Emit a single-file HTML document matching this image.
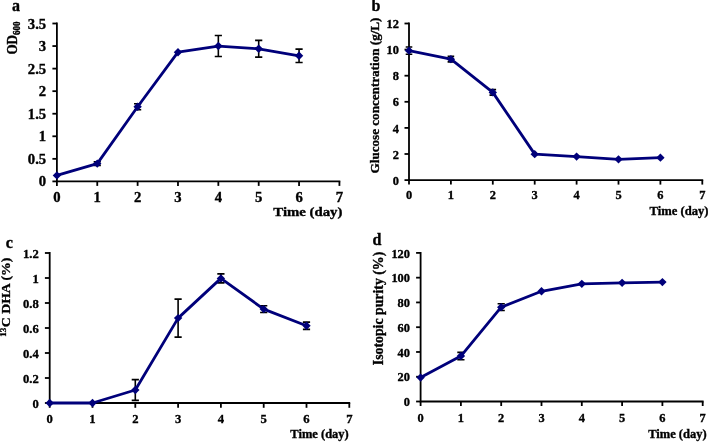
<!DOCTYPE html>
<html><head><meta charset="utf-8"><style>
html,body{margin:0;padding:0;background:#fff;}
svg{display:block;}
text{font-family:"Liberation Serif", serif;font-weight:bold;fill:#000;stroke:#000;stroke-width:0.35px;}
svg{will-change:transform;}
</style></head><body>
<svg width="708" height="442" viewBox="0 0 708 442">
<rect width="708" height="442" fill="#fff"/>
<path d="M56.9,23.5V181.4H339.42" fill="none" stroke="#000" stroke-width="1.8" stroke-linecap="square"/>
<line x1="52.4" y1="181.40" x2="56.9" y2="181.40" stroke="#000" stroke-width="1.8"/>
<line x1="52.4" y1="158.84" x2="56.9" y2="158.84" stroke="#000" stroke-width="1.8"/>
<line x1="52.4" y1="136.29" x2="56.9" y2="136.29" stroke="#000" stroke-width="1.8"/>
<line x1="52.4" y1="113.73" x2="56.9" y2="113.73" stroke="#000" stroke-width="1.8"/>
<line x1="52.4" y1="91.17" x2="56.9" y2="91.17" stroke="#000" stroke-width="1.8"/>
<line x1="52.4" y1="68.61" x2="56.9" y2="68.61" stroke="#000" stroke-width="1.8"/>
<line x1="52.4" y1="46.06" x2="56.9" y2="46.06" stroke="#000" stroke-width="1.8"/>
<line x1="52.4" y1="23.50" x2="56.9" y2="23.50" stroke="#000" stroke-width="1.8"/>
<line x1="56.90" y1="181.4" x2="56.90" y2="185.9" stroke="#000" stroke-width="1.8"/>
<line x1="97.26" y1="181.4" x2="97.26" y2="185.9" stroke="#000" stroke-width="1.8"/>
<line x1="137.62" y1="181.4" x2="137.62" y2="185.9" stroke="#000" stroke-width="1.8"/>
<line x1="177.98" y1="181.4" x2="177.98" y2="185.9" stroke="#000" stroke-width="1.8"/>
<line x1="218.34" y1="181.4" x2="218.34" y2="185.9" stroke="#000" stroke-width="1.8"/>
<line x1="258.70" y1="181.4" x2="258.70" y2="185.9" stroke="#000" stroke-width="1.8"/>
<line x1="299.06" y1="181.4" x2="299.06" y2="185.9" stroke="#000" stroke-width="1.8"/>
<line x1="339.42" y1="181.4" x2="339.42" y2="185.9" stroke="#000" stroke-width="1.8"/>
<text transform="translate(46.2,186.43) scale(1.05,1)" text-anchor="end" font-size="14">0</text>
<text transform="translate(46.2,163.87) scale(1.05,1)" text-anchor="end" font-size="14">0.5</text>
<text transform="translate(46.2,141.32) scale(1.05,1)" text-anchor="end" font-size="14">1</text>
<text transform="translate(46.2,118.76) scale(1.05,1)" text-anchor="end" font-size="14">1.5</text>
<text transform="translate(46.2,96.20) scale(1.05,1)" text-anchor="end" font-size="14">2</text>
<text transform="translate(46.2,73.65) scale(1.05,1)" text-anchor="end" font-size="14">2.5</text>
<text transform="translate(46.2,51.09) scale(1.05,1)" text-anchor="end" font-size="14">3</text>
<text transform="translate(46.2,28.53) scale(1.05,1)" text-anchor="end" font-size="14">3.5</text>
<text transform="translate(56.90,202.1) scale(1.05,1)" text-anchor="middle" font-size="14">0</text>
<text transform="translate(97.26,202.1) scale(1.05,1)" text-anchor="middle" font-size="14">1</text>
<text transform="translate(137.62,202.1) scale(1.05,1)" text-anchor="middle" font-size="14">2</text>
<text transform="translate(177.98,202.1) scale(1.05,1)" text-anchor="middle" font-size="14">3</text>
<text transform="translate(218.34,202.1) scale(1.05,1)" text-anchor="middle" font-size="14">4</text>
<text transform="translate(258.70,202.1) scale(1.05,1)" text-anchor="middle" font-size="14">5</text>
<text transform="translate(299.06,202.1) scale(1.05,1)" text-anchor="middle" font-size="14">6</text>
<text transform="translate(339.42,202.1) scale(1.05,1)" text-anchor="middle" font-size="14">7</text>
<text transform="translate(273.3,215.7) scale(1.12,1)" font-size="13.2">Time (day)</text>
<text transform="translate(12.0,11.0) scale(1.0,1)" font-size="16">a</text>
<text transform="translate(17.2,54.5) rotate(-90) scale(1,1.15)" font-size="13">OD<tspan font-size="9" dy="2.6">600</tspan></text>
<path d="M97.26,161.78V165.38M93.66,161.78H100.86M93.66,165.38H100.86" stroke="#000" stroke-width="1.6" fill="none"/>
<path d="M137.62,103.80V109.76M134.02,103.80H141.22M134.02,109.76H141.22" stroke="#000" stroke-width="1.6" fill="none"/>
<path d="M218.34,35.55V56.57M214.74,35.55H221.94M214.74,56.57H221.94" stroke="#000" stroke-width="1.6" fill="none"/>
<path d="M258.70,40.42V57.11M255.10,40.42H262.30M255.10,57.11H262.30" stroke="#000" stroke-width="1.6" fill="none"/>
<path d="M299.06,49.08V62.52M295.46,49.08H302.66M295.46,62.52H302.66" stroke="#000" stroke-width="1.6" fill="none"/>
<polyline points="56.90,175.40 97.26,163.58 137.62,106.78 177.98,52.19 218.34,46.06 258.70,48.76 299.06,55.80" fill="none" stroke="#00007a" stroke-width="2.8" stroke-linejoin="round"/>
<path d="M56.90,171.20L61.10,175.40L56.90,179.60L52.70,175.40Z" fill="#00007a"/>
<path d="M97.26,159.38L101.46,163.58L97.26,167.78L93.06,163.58Z" fill="#00007a"/>
<path d="M137.62,102.58L141.82,106.78L137.62,110.98L133.42,106.78Z" fill="#00007a"/>
<path d="M177.98,47.99L182.18,52.19L177.98,56.39L173.78,52.19Z" fill="#00007a"/>
<path d="M218.34,41.86L222.54,46.06L218.34,50.26L214.14,46.06Z" fill="#00007a"/>
<path d="M258.70,44.56L262.90,48.76L258.70,52.96L254.50,48.76Z" fill="#00007a"/>
<path d="M299.06,51.60L303.26,55.80L299.06,60.00L294.86,55.80Z" fill="#00007a"/>
<path d="M409,23.5V180.1H702.30" fill="none" stroke="#000" stroke-width="1.8" stroke-linecap="square"/>
<line x1="404.5" y1="180.10" x2="409" y2="180.10" stroke="#000" stroke-width="1.8"/>
<line x1="404.5" y1="154.00" x2="409" y2="154.00" stroke="#000" stroke-width="1.8"/>
<line x1="404.5" y1="127.90" x2="409" y2="127.90" stroke="#000" stroke-width="1.8"/>
<line x1="404.5" y1="101.80" x2="409" y2="101.80" stroke="#000" stroke-width="1.8"/>
<line x1="404.5" y1="75.70" x2="409" y2="75.70" stroke="#000" stroke-width="1.8"/>
<line x1="404.5" y1="49.60" x2="409" y2="49.60" stroke="#000" stroke-width="1.8"/>
<line x1="404.5" y1="23.50" x2="409" y2="23.50" stroke="#000" stroke-width="1.8"/>
<line x1="409.00" y1="180.1" x2="409.00" y2="184.6" stroke="#000" stroke-width="1.8"/>
<line x1="450.90" y1="180.1" x2="450.90" y2="184.6" stroke="#000" stroke-width="1.8"/>
<line x1="492.80" y1="180.1" x2="492.80" y2="184.6" stroke="#000" stroke-width="1.8"/>
<line x1="534.70" y1="180.1" x2="534.70" y2="184.6" stroke="#000" stroke-width="1.8"/>
<line x1="576.60" y1="180.1" x2="576.60" y2="184.6" stroke="#000" stroke-width="1.8"/>
<line x1="618.50" y1="180.1" x2="618.50" y2="184.6" stroke="#000" stroke-width="1.8"/>
<line x1="660.40" y1="180.1" x2="660.40" y2="184.6" stroke="#000" stroke-width="1.8"/>
<line x1="702.30" y1="180.1" x2="702.30" y2="184.6" stroke="#000" stroke-width="1.8"/>
<text transform="translate(399.0,184.73) scale(0.97,1)" text-anchor="end" font-size="12.8">0</text>
<text transform="translate(399.0,158.63) scale(0.97,1)" text-anchor="end" font-size="12.8">2</text>
<text transform="translate(399.0,132.53) scale(0.97,1)" text-anchor="end" font-size="12.8">4</text>
<text transform="translate(399.0,106.43) scale(0.97,1)" text-anchor="end" font-size="12.8">6</text>
<text transform="translate(399.0,80.33) scale(0.97,1)" text-anchor="end" font-size="12.8">8</text>
<text transform="translate(399.0,54.23) scale(0.97,1)" text-anchor="end" font-size="12.8">10</text>
<text transform="translate(399.0,28.13) scale(0.97,1)" text-anchor="end" font-size="12.8">12</text>
<text transform="translate(409.00,199.2) scale(0.97,1)" text-anchor="middle" font-size="12.8">0</text>
<text transform="translate(450.90,199.2) scale(0.97,1)" text-anchor="middle" font-size="12.8">1</text>
<text transform="translate(492.80,199.2) scale(0.97,1)" text-anchor="middle" font-size="12.8">2</text>
<text transform="translate(534.70,199.2) scale(0.97,1)" text-anchor="middle" font-size="12.8">3</text>
<text transform="translate(576.60,199.2) scale(0.97,1)" text-anchor="middle" font-size="12.8">4</text>
<text transform="translate(618.50,199.2) scale(0.97,1)" text-anchor="middle" font-size="12.8">5</text>
<text transform="translate(660.40,199.2) scale(0.97,1)" text-anchor="middle" font-size="12.8">6</text>
<text transform="translate(702.30,199.2) scale(0.97,1)" text-anchor="middle" font-size="12.8">7</text>
<text transform="translate(649.6,215.2) scale(1.0,1)" font-size="12.6">Time (day)</text>
<text transform="translate(371.4,11.3) scale(1.0,1)" font-size="16">b</text>
<text transform="translate(379.3,173.4) rotate(-90) scale(1,1.0)" font-size="13.12">Glucose concentration (g/L)</text>
<path d="M409.00,46.99V54.30M405.70,46.99H412.30M405.70,54.30H412.30" stroke="#000" stroke-width="1.6" fill="none"/>
<path d="M450.90,56.39V61.87M447.60,56.39H454.20M447.60,61.87H454.20" stroke="#000" stroke-width="1.6" fill="none"/>
<path d="M492.80,89.66V95.14M489.50,89.66H496.10M489.50,95.14H496.10" stroke="#000" stroke-width="1.6" fill="none"/>
<polyline points="409.00,50.64 450.90,59.13 492.80,92.40 534.70,154.13 576.60,156.61 618.50,159.35 660.40,157.65" fill="none" stroke="#00007a" stroke-width="2.8" stroke-linejoin="round"/>
<path d="M409.00,46.44L413.20,50.64L409.00,54.84L404.80,50.64Z" fill="#00007a"/>
<path d="M450.90,54.93L455.10,59.13L450.90,63.33L446.70,59.13Z" fill="#00007a"/>
<path d="M492.80,88.20L497.00,92.40L492.80,96.60L488.60,92.40Z" fill="#00007a"/>
<path d="M534.70,149.93L538.90,154.13L534.70,158.33L530.50,154.13Z" fill="#00007a"/>
<path d="M576.60,152.41L580.80,156.61L576.60,160.81L572.40,156.61Z" fill="#00007a"/>
<path d="M618.50,155.15L622.70,159.35L618.50,163.55L614.30,159.35Z" fill="#00007a"/>
<path d="M660.40,153.45L664.60,157.65L660.40,161.85L656.20,157.65Z" fill="#00007a"/>
<path d="M49.7,253V403.0H349.30" fill="none" stroke="#000" stroke-width="1.8" stroke-linecap="square"/>
<line x1="44.900000000000006" y1="403.00" x2="49.7" y2="403.00" stroke="#000" stroke-width="1.8"/>
<line x1="44.900000000000006" y1="378.00" x2="49.7" y2="378.00" stroke="#000" stroke-width="1.8"/>
<line x1="44.900000000000006" y1="353.00" x2="49.7" y2="353.00" stroke="#000" stroke-width="1.8"/>
<line x1="44.900000000000006" y1="328.00" x2="49.7" y2="328.00" stroke="#000" stroke-width="1.8"/>
<line x1="44.900000000000006" y1="303.00" x2="49.7" y2="303.00" stroke="#000" stroke-width="1.8"/>
<line x1="44.900000000000006" y1="278.00" x2="49.7" y2="278.00" stroke="#000" stroke-width="1.8"/>
<line x1="44.900000000000006" y1="253.00" x2="49.7" y2="253.00" stroke="#000" stroke-width="1.8"/>
<line x1="49.70" y1="403.0" x2="49.70" y2="407.8" stroke="#000" stroke-width="1.8"/>
<line x1="92.50" y1="403.0" x2="92.50" y2="407.8" stroke="#000" stroke-width="1.8"/>
<line x1="135.30" y1="403.0" x2="135.30" y2="407.8" stroke="#000" stroke-width="1.8"/>
<line x1="178.10" y1="403.0" x2="178.10" y2="407.8" stroke="#000" stroke-width="1.8"/>
<line x1="220.90" y1="403.0" x2="220.90" y2="407.8" stroke="#000" stroke-width="1.8"/>
<line x1="263.70" y1="403.0" x2="263.70" y2="407.8" stroke="#000" stroke-width="1.8"/>
<line x1="306.50" y1="403.0" x2="306.50" y2="407.8" stroke="#000" stroke-width="1.8"/>
<line x1="349.30" y1="403.0" x2="349.30" y2="407.8" stroke="#000" stroke-width="1.8"/>
<text transform="translate(38.7,407.80) scale(0.95,1)" text-anchor="end" font-size="13.3">0</text>
<text transform="translate(38.7,382.80) scale(0.95,1)" text-anchor="end" font-size="13.3">0.2</text>
<text transform="translate(38.7,357.80) scale(0.95,1)" text-anchor="end" font-size="13.3">0.4</text>
<text transform="translate(38.7,332.80) scale(0.95,1)" text-anchor="end" font-size="13.3">0.6</text>
<text transform="translate(38.7,307.80) scale(0.95,1)" text-anchor="end" font-size="13.3">0.8</text>
<text transform="translate(38.7,282.80) scale(0.95,1)" text-anchor="end" font-size="13.3">1</text>
<text transform="translate(38.7,257.80) scale(0.95,1)" text-anchor="end" font-size="13.3">1.2</text>
<text transform="translate(49.70,423.1) scale(0.95,1)" text-anchor="middle" font-size="13.3">0</text>
<text transform="translate(92.50,423.1) scale(0.95,1)" text-anchor="middle" font-size="13.3">1</text>
<text transform="translate(135.30,423.1) scale(0.95,1)" text-anchor="middle" font-size="13.3">2</text>
<text transform="translate(178.10,423.1) scale(0.95,1)" text-anchor="middle" font-size="13.3">3</text>
<text transform="translate(220.90,423.1) scale(0.95,1)" text-anchor="middle" font-size="13.3">4</text>
<text transform="translate(263.70,423.1) scale(0.95,1)" text-anchor="middle" font-size="13.3">5</text>
<text transform="translate(306.50,423.1) scale(0.95,1)" text-anchor="middle" font-size="13.3">6</text>
<text transform="translate(349.30,423.1) scale(0.95,1)" text-anchor="middle" font-size="13.3">7</text>
<text transform="translate(290.3,438.2) scale(1.0,1)" font-size="12.5">Time (day)</text>
<text transform="translate(5.8,248) scale(1.0,1)" font-size="16">c</text>
<text transform="translate(10.2,336.8) rotate(-90) scale(1,0.87)" font-size="13.8"><tspan font-size="9" dy="-4.5">13</tspan><tspan dy="4.5" dx="0.6">C DHA (%)</tspan></text>
<path d="M135.30,379.62V400.38M131.70,379.62H138.90M131.70,400.38H138.90" stroke="#000" stroke-width="1.6" fill="none"/>
<path d="M178.10,299.12V337.12M174.50,299.12H181.70M174.50,337.12H181.70" stroke="#000" stroke-width="1.6" fill="none"/>
<path d="M220.90,273.88V282.88M217.30,273.88H224.50M217.30,282.88H224.50" stroke="#000" stroke-width="1.6" fill="none"/>
<path d="M263.70,305.75V312.50M260.10,305.75H267.30M260.10,312.50H267.30" stroke="#000" stroke-width="1.6" fill="none"/>
<path d="M306.50,322.12V329.38M302.90,322.12H310.10M302.90,329.38H310.10" stroke="#000" stroke-width="1.6" fill="none"/>
<polyline points="49.70,403.00 92.50,403.00 135.30,390.00 178.10,318.12 220.90,278.38 263.70,309.12 306.50,325.75" fill="none" stroke="#00007a" stroke-width="2.8" stroke-linejoin="round"/>
<path d="M49.70,398.80L53.90,403.00L49.70,407.20L45.50,403.00Z" fill="#00007a"/>
<path d="M92.50,398.80L96.70,403.00L92.50,407.20L88.30,403.00Z" fill="#00007a"/>
<path d="M135.30,385.80L139.50,390.00L135.30,394.20L131.10,390.00Z" fill="#00007a"/>
<path d="M178.10,313.93L182.30,318.12L178.10,322.32L173.90,318.12Z" fill="#00007a"/>
<path d="M220.90,274.18L225.10,278.38L220.90,282.57L216.70,278.38Z" fill="#00007a"/>
<path d="M263.70,304.93L267.90,309.12L263.70,313.32L259.50,309.12Z" fill="#00007a"/>
<path d="M306.50,321.55L310.70,325.75L306.50,329.95L302.30,325.75Z" fill="#00007a"/>
<path d="M420.6,252.9V401.5H702.70" fill="none" stroke="#000" stroke-width="1.8" stroke-linecap="square"/>
<line x1="416.1" y1="401.50" x2="420.6" y2="401.50" stroke="#000" stroke-width="1.8"/>
<line x1="416.1" y1="376.73" x2="420.6" y2="376.73" stroke="#000" stroke-width="1.8"/>
<line x1="416.1" y1="351.97" x2="420.6" y2="351.97" stroke="#000" stroke-width="1.8"/>
<line x1="416.1" y1="327.20" x2="420.6" y2="327.20" stroke="#000" stroke-width="1.8"/>
<line x1="416.1" y1="302.43" x2="420.6" y2="302.43" stroke="#000" stroke-width="1.8"/>
<line x1="416.1" y1="277.67" x2="420.6" y2="277.67" stroke="#000" stroke-width="1.8"/>
<line x1="416.1" y1="252.90" x2="420.6" y2="252.90" stroke="#000" stroke-width="1.8"/>
<line x1="420.60" y1="401.5" x2="420.60" y2="406.0" stroke="#000" stroke-width="1.8"/>
<line x1="460.90" y1="401.5" x2="460.90" y2="406.0" stroke="#000" stroke-width="1.8"/>
<line x1="501.20" y1="401.5" x2="501.20" y2="406.0" stroke="#000" stroke-width="1.8"/>
<line x1="541.50" y1="401.5" x2="541.50" y2="406.0" stroke="#000" stroke-width="1.8"/>
<line x1="581.80" y1="401.5" x2="581.80" y2="406.0" stroke="#000" stroke-width="1.8"/>
<line x1="622.10" y1="401.5" x2="622.10" y2="406.0" stroke="#000" stroke-width="1.8"/>
<line x1="662.40" y1="401.5" x2="662.40" y2="406.0" stroke="#000" stroke-width="1.8"/>
<line x1="702.70" y1="401.5" x2="702.70" y2="406.0" stroke="#000" stroke-width="1.8"/>
<text transform="translate(410.0,406.13) scale(0.97,1)" text-anchor="end" font-size="12.8">0</text>
<text transform="translate(410.0,381.36) scale(0.97,1)" text-anchor="end" font-size="12.8">20</text>
<text transform="translate(410.0,356.59) scale(0.97,1)" text-anchor="end" font-size="12.8">40</text>
<text transform="translate(410.0,331.83) scale(0.97,1)" text-anchor="end" font-size="12.8">60</text>
<text transform="translate(410.0,307.06) scale(0.97,1)" text-anchor="end" font-size="12.8">80</text>
<text transform="translate(410.0,282.29) scale(0.97,1)" text-anchor="end" font-size="12.8">100</text>
<text transform="translate(410.0,257.53) scale(0.97,1)" text-anchor="end" font-size="12.8">120</text>
<text transform="translate(420.60,421.8) scale(0.97,1)" text-anchor="middle" font-size="12.8">0</text>
<text transform="translate(460.90,421.8) scale(0.97,1)" text-anchor="middle" font-size="12.8">1</text>
<text transform="translate(501.20,421.8) scale(0.97,1)" text-anchor="middle" font-size="12.8">2</text>
<text transform="translate(541.50,421.8) scale(0.97,1)" text-anchor="middle" font-size="12.8">3</text>
<text transform="translate(581.80,421.8) scale(0.97,1)" text-anchor="middle" font-size="12.8">4</text>
<text transform="translate(622.10,421.8) scale(0.97,1)" text-anchor="middle" font-size="12.8">5</text>
<text transform="translate(662.40,421.8) scale(0.97,1)" text-anchor="middle" font-size="12.8">6</text>
<text transform="translate(702.70,421.8) scale(0.97,1)" text-anchor="middle" font-size="12.8">7</text>
<text transform="translate(648.2,438) scale(1.0,1)" font-size="12.5">Time (day)</text>
<text transform="translate(372.5,244.6) scale(1.0,1)" font-size="16">d</text>
<text transform="translate(383.2,365.2) rotate(-90) scale(1,1.0)" font-size="13.8">Isotopic purity (%)</text>
<path d="M460.90,352.34V359.77M457.30,352.34H464.50M457.30,359.77H464.50" stroke="#000" stroke-width="1.6" fill="none"/>
<path d="M501.20,303.80V310.48M497.60,303.80H504.80M497.60,310.48H504.80" stroke="#000" stroke-width="1.6" fill="none"/>
<polyline points="420.60,377.60 460.90,356.05 501.20,307.14 541.50,291.29 581.80,283.86 622.10,282.87 662.40,282.12" fill="none" stroke="#00007a" stroke-width="2.8" stroke-linejoin="round"/>
<path d="M420.60,373.40L424.80,377.60L420.60,381.80L416.40,377.60Z" fill="#00007a"/>
<path d="M460.90,351.85L465.10,356.05L460.90,360.25L456.70,356.05Z" fill="#00007a"/>
<path d="M501.20,302.94L505.40,307.14L501.20,311.34L497.00,307.14Z" fill="#00007a"/>
<path d="M541.50,287.09L545.70,291.29L541.50,295.49L537.30,291.29Z" fill="#00007a"/>
<path d="M581.80,279.66L586.00,283.86L581.80,288.06L577.60,283.86Z" fill="#00007a"/>
<path d="M622.10,278.67L626.30,282.87L622.10,287.07L617.90,282.87Z" fill="#00007a"/>
<path d="M662.40,277.92L666.60,282.12L662.40,286.32L658.20,282.12Z" fill="#00007a"/>
</svg>
</body></html>
